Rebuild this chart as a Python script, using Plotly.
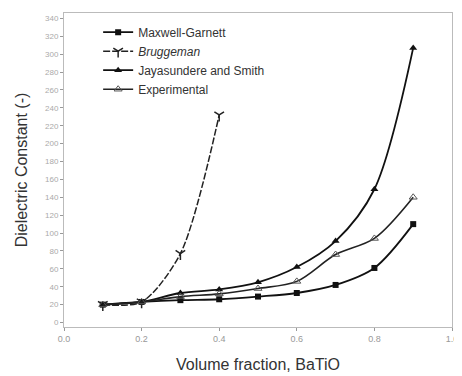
import plotly.graph_objects as go

# Volume fraction of BaTiO3
vf = [0.1, 0.2, 0.3, 0.4, 0.5, 0.6, 0.7, 0.8, 0.9]
vf_brug = [0.1, 0.2, 0.3, 0.4]

maxwell_garnett = [20, 23, 25, 26, 29, 33, 42, 61, 110]
bruggeman = [20, 23, 77, 232]
jayasundere = [20, 23, 33, 37, 45, 62, 91, 149, 307]
experimental = [20, 23, 29, 32, 38, 46, 76, 94, 140]

x_ticks = [0.0, 0.2, 0.4, 0.6, 0.8, 1.0]
x_ticklabels = ["0.0", "0.2", "0.4", "0.6", "0.8", "1.0"]
y_ticks = list(range(0, 341, 20))

fig = go.Figure()

fig.add_trace(go.Scatter(
    x=vf, y=maxwell_garnett, name="Maxwell-Garnett", mode="lines+markers",
    line=dict(color="#111", width=1.8, shape="spline", smoothing=0.9),
    marker=dict(symbol="square", size=6, color="#111")))
fig.add_trace(go.Scatter(
    x=vf_brug, y=bruggeman, name="<i>Bruggeman</i>", mode="lines+markers",
    line=dict(color="#222", width=1.5, shape="spline", smoothing=0.8, dash="7px,2px"),
    marker=dict(symbol="y-down-open", size=8, color="#222", line=dict(width=1.5, color="#222"))))
fig.add_trace(go.Scatter(
    x=vf, y=jayasundere, name="Jayasundere and Smith", mode="lines+markers",
    line=dict(color="#111", width=1.8, shape="spline", smoothing=0.9),
    marker=dict(symbol="triangle-up", size=7, color="#111")))
fig.add_trace(go.Scatter(
    x=vf, y=experimental, name="Experimental", mode="lines+markers",
    line=dict(color="#222", width=1.6, shape="spline", smoothing=0.9),
    marker=dict(symbol="triangle-up-open", size=7, color="#555", line=dict(width=1, color="#555"))))

fig.update_layout(
    width=454, height=368,
    margin=dict(l=56, r=7, t=4, b=49),
    paper_bgcolor="white", plot_bgcolor="white",
    font=dict(family="Liberation Sans, Arial, sans-serif", color="#333"),
    showlegend=True,
    legend=dict(x=0.088, y=0.985, xanchor="left", yanchor="top",
                bgcolor="rgba(0,0,0,0)", font=dict(size=12, color="#333"),
                tracegroupgap=0, itemwidth=30),
    xaxis=dict(range=[0, 1.0], tickvals=x_ticks, ticktext=x_ticklabels,
               showgrid=False, zeroline=False, showline=True, linecolor="#bbb",
               linewidth=1, mirror=True, ticks="outside", ticklen=3, tickcolor="#999",
               tickfont=dict(size=9, color="#999"),
               title=dict(text="Volume fraction, BaTiO", font=dict(size=16, color="#333"), standoff=16)),
    yaxis=dict(range=[-5, 346], tickvals=y_ticks,
               showgrid=False, zeroline=False, showline=True, linecolor="#bbb",
               linewidth=1, mirror=True, ticks="outside", ticklen=3, tickcolor="#999",
               tickfont=dict(size=8, color="#aaa"),
               title=dict(text="Dielectric Constant (-)", font=dict(size=16, color="#333"), standoff=13)),
)

fig.write_html("out.html")
